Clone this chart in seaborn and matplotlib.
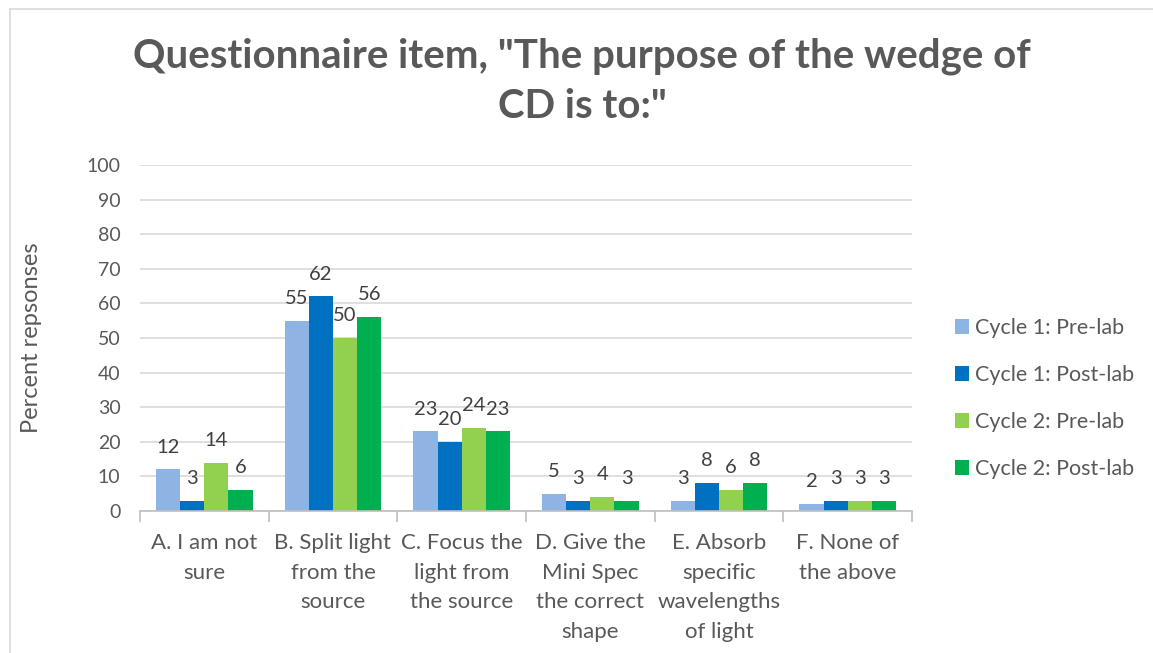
import matplotlib
matplotlib.use("Agg")
import matplotlib.pyplot as plt
from matplotlib.lines import Line2D
import numpy as np
import pandas as pd
import seaborn as sns

categories = [
    "A. I am not\nsure",
    "B. Split light\nfrom the\nsource",
    "C. Focus the\nlight from\nthe source",
    "D. Give the\nMini Spec\nthe correct\nshape",
    "E. Absorb\nspecific\nwavelengths\nof light",
    "F. None of\nthe above",
]
series_names = ["Cycle 1: Pre-lab", "Cycle 1: Post-lab", "Cycle 2: Pre-lab", "Cycle 2: Post-lab"]
cycle1_pre = [12, 55, 23, 5, 3, 2]
cycle1_post = [3, 62, 20, 3, 8, 3]
cycle2_pre = [14, 50, 24, 4, 6, 3]
cycle2_post = [6, 56, 23, 3, 8, 3]
colors = ["#8EB4E3", "#0070C0", "#92D050", "#00B050"]
y_ticks = list(range(0, 101, 10))

rows = []
for name, vals in zip(series_names, [cycle1_pre, cycle1_post, cycle2_pre, cycle2_post]):
    for cat, v in zip(categories, vals):
        rows.append({"category": cat, "series": name, "value": v})
df = pd.DataFrame(rows)

sns.set_theme(style="white")
plt.rcParams["font.family"] = ["Lato", "DejaVu Sans"]

text_gray = "#595959"
fig = plt.figure(figsize=(11.53, 6.53), dpi=100)
ax = fig.add_axes([0.1214, 0.2175, 0.6696, 0.5298])

sns.barplot(data=df, x="category", y="value", hue="series", order=categories,
            hue_order=series_names, palette=colors, width=0.75, gap=0,
            saturation=1, ax=ax, legend=True, linewidth=0)

for cont in ax.containers:
    ax.bar_label(cont, fmt="%d", padding=10, fontsize=14.5, color="#404040")

ax.set_ylim(0, 100)
ax.set_yticks(y_ticks)
ax.set_xlim(-0.5, len(categories) - 0.5)
ax.yaxis.grid(True, color="#D9D9D9", linewidth=1.2)
ax.set_axisbelow(True)
for s in ["top", "right", "left"]:
    ax.spines[s].set_visible(False)
ax.spines["bottom"].set_color("#BFBFBF")
ax.spines["bottom"].set_linewidth(1.2)

ax.tick_params(axis="y", length=0, labelsize=14, labelcolor=text_gray, pad=14)
ax.tick_params(axis="x", which="major", length=0, labelsize=16, labelcolor=text_gray, pad=16)
ax.set_xticks(np.arange(-0.5, len(categories), 1.0), minor=True)
ax.tick_params(axis="x", which="minor", length=8, color="#BFBFBF", width=1.2, bottom=True)
for lbl in ax.get_xticklabels():
    lbl.set_linespacing(1.6)
    lbl.set_ha("center")

ax.set_xlabel("")
ax.set_ylabel("Percent repsonses", fontsize=17, color=text_gray, labelpad=32)

leg = ax.legend(loc="center left", bbox_to_anchor=(1.056, 0.325), frameon=False,
                borderaxespad=0, borderpad=0,
                fontsize=15.5, labelspacing=1.25, handlelength=0.65, handleheight=0.65,
                handletextpad=0.25, labelcolor=text_gray)

fig.suptitle('Questionnaire item, "The purpose of the wedge of\nCD is to:"',
             x=0.505, y=0.943, fontsize=29, fontweight="bold", color=text_gray,
             linespacing=1.45)

# light frame around the chart area
fig.add_artist(Line2D([10 / 1153, 1.0], [1 - 9 / 653, 1 - 9 / 653],
                      transform=fig.transFigure, color="#D9D9D9", linewidth=1.2))
fig.add_artist(Line2D([10 / 1153, 10 / 1153], [0.0, 1 - 9 / 653],
                      transform=fig.transFigure, color="#D9D9D9", linewidth=1.2))

fig.savefig("out.png", dpi=100, facecolor="white")
